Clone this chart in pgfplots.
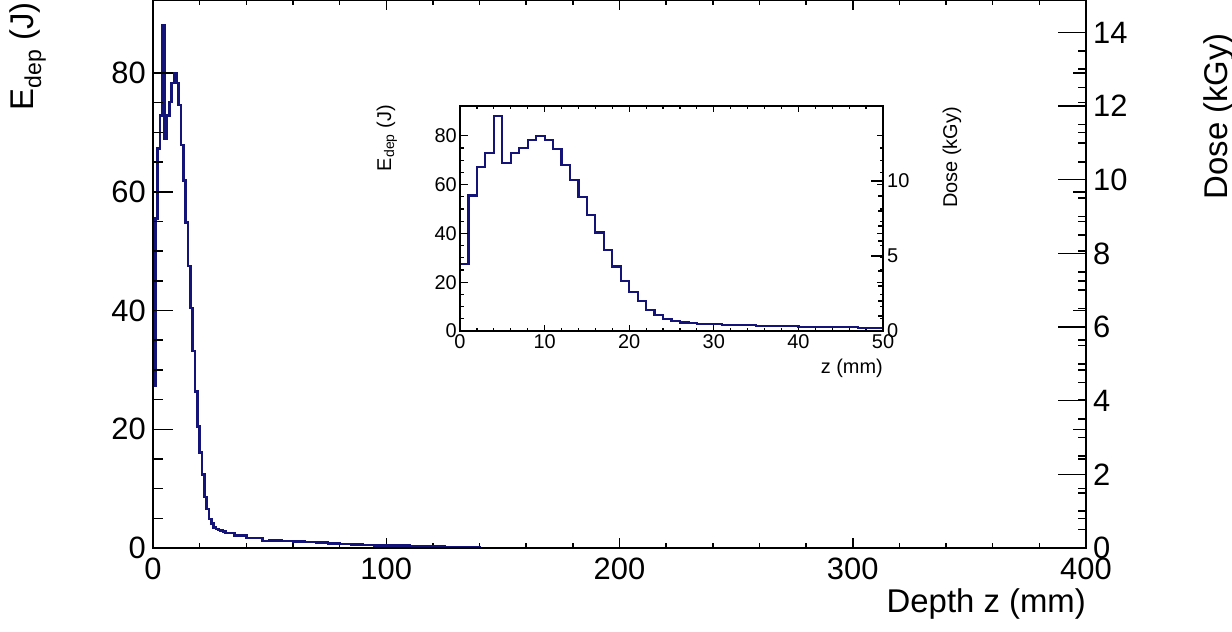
\documentclass[border=0pt]{standalone}
\usepackage{pgfplots}
\pgfplotsset{compat=1.18}
\usepackage{pgfplotstable}
\usepackage{fontspec}
\setmainfont{Liberation Sans}

\definecolor{histblue}{RGB}{20,20,120}

% Energy deposited per depth bin (left bin edge in mm, value in J)
\pgfplotstableread{
z edep
0 0
0 27.3
1 55.5
2 67.3
3 72.8
4 88.1
5 69.0
6 72.8
7 75.1
8 78.3
9 80.0
10 78.3
11 74.6
12 67.9
13 61.9
14 54.8
15 47.5
16 40.4
17 33.2
18 26.4
19 20.5
20 16.1
21 12.4
22 8.6
23 6.6
24 4.9
25 4.1
26 3.5
27 3.2
28 3.0
29 2.9
30 2.8
31 2.5
35 2.1
40 1.7
47 1.2
50 1.3
55 1.2
60 1.1
65 1.0
70 0.9
75 0.8
80 0.7
85 0.6
90 0.5
95 0.45
100 0.38
110 0.32
120 0.28
125 0.15
130 0.08
140 0.03
400 0.03
}\edeptable

\pgfplotsset{
  rootframe/.style={
    scale only axis, clip=true,
    axis line style={line width=2bp, black},
    tick style={line width=1.5bp, black},
    tick align=inside,
    /pgf/number format/assume math mode=true,
    every tick label/.append style={inner sep=0pt},
  },
  mainbox/.style={rootframe, at={(153bp,84bp)}, anchor=south west,
    width=933bp, height=548bp, xmin=0, xmax=400},
  insetbox/.style={rootframe, at={(460bp,301bp)}, anchor=south west,
    width=423bp, height=225bp, xmin=0, xmax=50,
    axis line style={line width=1.8bp, black},
    tick style={line width=1.2bp, black}},
}

\newcommand{\mainfont}{\fontsize{31}{31}\selectfont}
\newcommand{\titlefont}{\fontsize{33}{33}\selectfont}
\newcommand{\insfont}{\fontsize{20}{20}\selectfont}

\begin{document}
\begin{tikzpicture}
% ---------------- main frame: histogram and depth ticks
\begin{axis}[mainbox, ymin=0, ymax=92.3,
  xtick={0,100,...,400}, minor x tick num=4,
  xtick pos=both, xticklabel pos=lower, ytick=\empty,
  major tick length=10bp, minor tick length=5bp,
  xticklabel style={font=\mainfont, yshift=-10bp}]
\addplot[const plot mark left, histblue, line width=2.6bp] table[x=z, y=edep] {\edeptable};
\end{axis}
% energy axis (left)
\begin{axis}[mainbox, ymin=0, ymax=92.3, xtick=\empty,
  ytick={0,20,...,80}, minor y tick num=3, ytick pos=left,
  major tick length=20bp, minor tick length=10bp,
  yticklabel style={font=\mainfont, xshift=-7bp}]
\end{axis}
% mirrored energy ticks (right)
\begin{axis}[mainbox, ymin=0, ymax=92.3, xtick=\empty,
  ytick={0,20,...,80}, minor y tick num=3, ytick pos=right, yticklabels={},
  major tick length=13bp, minor tick length=8bp]
\end{axis}
% dose axis (right)
\begin{axis}[mainbox, ymin=0, ymax=14.88, xtick=\empty,
  ytick={0,2,...,14}, minor y tick num=3, ytick pos=right, yticklabel pos=right,
  major tick length=28bp, minor tick length=8bp,
  yticklabel style={font=\mainfont, xshift=7bp}]
\end{axis}
\node[rotate=90, anchor=base east, inner sep=0pt, font=\titlefont] at (33bp,630bp) {E\textsubscript{dep} (J)};
\node[rotate=90, anchor=base east, inner sep=0pt, font=\titlefont] at (1227bp,599bp) {Dose (kGy)};
\node[anchor=base east, inner sep=0pt, font=\titlefont] at (1086bp,20bp) {Depth z (mm)};

% ---------------- inset: first 50 mm
\begin{axis}[insetbox, ymin=0, ymax=92.2,
  axis background/.style={fill=white},
  xtick={0,10,...,50}, minor x tick num=4,
  xtick pos=both, xticklabel pos=lower, ytick=\empty,
  major tick length=6bp, minor tick length=3bp,
  xticklabel style={font=\insfont, yshift=-3bp}]
\addplot[const plot mark left, histblue, line width=2.2bp] table[x=z, y=edep] {\edeptable};
\end{axis}
\begin{axis}[insetbox, ymin=0, ymax=92.2, xtick=\empty,
  ytick={0,20,...,80}, minor y tick num=3, ytick pos=left,
  major tick length=8bp, minor tick length=4bp,
  yticklabel style={font=\insfont, xshift=-3bp}]
\end{axis}
\begin{axis}[insetbox, ymin=0, ymax=92.2, xtick=\empty,
  ytick={0,20,...,80}, minor y tick num=3, ytick pos=right, yticklabels={},
  major tick length=6bp, minor tick length=3bp]
\end{axis}
\begin{axis}[insetbox, ymin=0, ymax=15.0, xtick=\empty,
  ytick={0,5,10}, minor y tick num=4, ytick pos=right, yticklabel pos=right,
  major tick length=12bp, minor tick length=5bp,
  yticklabel style={font=\insfont, xshift=4bp}]
\end{axis}
\node[rotate=90, anchor=base east, inner sep=0pt, font=\insfont] at (391bp,527bp) {E\textsubscript{dep} (J)};
\node[rotate=90, anchor=base east, inner sep=0pt, font=\insfont] at (957bp,525bp) {Dose (kGy)};
\node[anchor=base east, inner sep=0pt, font=\insfont] at (883bp,258bp) {z (mm)};

\pgfresetboundingbox
\path[use as bounding box] (0bp,0bp) rectangle (1232bp,632bp);
\end{tikzpicture}
\end{document}
